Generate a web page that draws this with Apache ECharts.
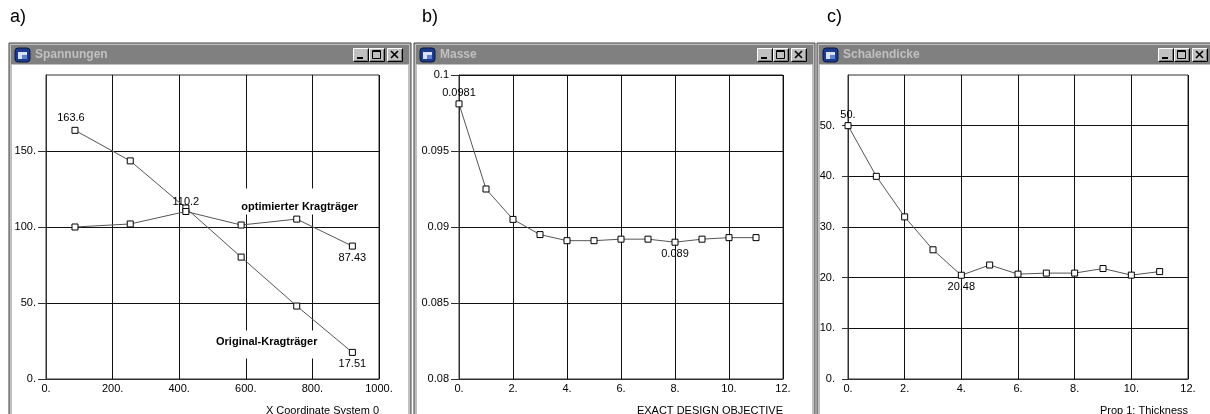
<!DOCTYPE html>
<html><head><meta charset="utf-8">
<script src="https://cdn.jsdelivr.net/npm/echarts/dist/echarts.min.js"></script>
<style>html,body{margin:0;padding:0;background:#fff;overflow:hidden}#c{width:1210px;height:414px}</style>
</head><body><div id="c"></div>
<script>
// ---- data ----
const xCoordA = [87, 253, 420, 586, 753, 920];
const originalVals = [163.6, 143.5, 112.5, 80.2, 48, 17.51];
const optimVals = [100, 102, 110.2, 101.3, 105.2, 87.43];
const iterations = [0, 1, 2, 3, 4, 5, 6, 7, 8, 9, 10, 11];
const masseVals = [0.0981, 0.0925, 0.0905, 0.0895, 0.0891, 0.0891, 0.0892, 0.0892, 0.089, 0.0892, 0.0893, 0.0893];
const dickeVals = [50, 40, 32, 25.5, 20.48, 22.5, 20.7, 20.9, 20.9, 21.8, 20.5, 21.2];
const yTicksA = [0, 50, 100, 150];
const yTicksB = [0.08, 0.085, 0.09, 0.095, 0.1];
const yTicksC = [0, 10, 20, 30, 40, 50];
const panelTitles = ['Spannungen', 'Masse', 'Schalendicke'];
const panelTags = ['a)', 'b)', 'c)'];
const axisNames = ['X Coordinate System 0', 'EXACT DESIGN OBJECTIVE', 'Prop 1: Thickness'];
const seriesNames = ['Original-Kragträger', 'optimierter Kragträger'];

// ---- styling ----
const FONT = 'Liberation Sans, Arial, sans-serif';
const fmtNum = v => Number.isInteger(v) ? v + '.' : String(v);

function pts(xs, ys, labels) {
  return xs.map((x, i) => {
    const item = { value: [x, ys[i]] };
    if (labels[i]) item.label = Object.assign({ show: true }, labels[i]);
    return item;
  });
}
const valLbl = (pos, dist, off) => ({ position: pos, distance: dist, offset: off || [0, 0],
  formatter: p => fmtNum(p.value[1]), fontSize: 11, color: '#000', fontFamily: FONT });
const nameLbl = (text, pos, dist, off, pad) => ({ position: pos, distance: dist, offset: off,
  formatter: text, fontSize: 11, fontWeight: 'bold', color: '#000', fontFamily: FONT,
  backgroundColor: '#fff', padding: pad });

const lineStyle = { color: '#555', width: 1 };
const itemStyle = { color: '#fff', borderColor: '#000', borderWidth: 1 };
function lineSeries(idx, data, name) {
  return { type: 'line', name: name, xAxisIndex: idx, yAxisIndex: idx, data: data, z: 6,
    symbol: 'rect', symbolSize: 6, showAllSymbol: true, lineStyle: lineStyle, itemStyle: itemStyle,
    emphasis: { disabled: true }, animation: false };
}

const gridBox = { show: true, borderColor: '#303030', borderWidth: 1, z: 5, containLabel: false, outerBoundsMode: 'none' };
const grids = [
  Object.assign({ left: 46, top: 75, width: 333, height: 304 }, gridBox),
  Object.assign({ left: 459, top: 75, width: 324, height: 304 }, gridBox),
  Object.assign({ left: 848, top: 75, width: 340, height: 304 }, gridBox)
];
const split = { show: true, lineStyle: { color: '#111', width: 1 } };
function xAx(i, max, interval) {
  return { type: 'value', gridIndex: i, min: 0, max: max, interval: interval, z: 5,
    axisLine: { show: true, onZero: false, lineStyle: { color: '#303030', width: 1 } },
    axisTick: { show: false }, splitLine: split,
    axisLabel: { fontSize: 11, color: '#000', fontFamily: FONT, margin: 4, formatter: v => v + '.' },
    name: axisNames[i], nameLocation: 'end', nameGap: 0,
    nameTextStyle: { fontSize: 11, color: '#000', fontFamily: FONT, align: 'right', verticalAlign: 'top', padding: [26, 0, 0, 0] } };
}
function yAx(i, min, max, interval, ticks, fmt, tickLen, margin) {
  return { type: 'value', gridIndex: i, min: min, max: max, interval: interval, z: 5,
    axisLine: { show: true, lineStyle: { color: '#303030', width: 1 } },
    axisTick: { show: true, length: tickLen, customValues: ticks, lineStyle: { color: '#303030' } }, splitLine: split,
    axisLabel: { fontSize: 11, color: '#000', fontFamily: FONT, margin: margin, customValues: ticks, formatter: fmt } };
}

// window frames
const frames = [[9, 411], [414, 815], [817, 1216]];
const gfx = [];
function button(x, y, glyph) {
  const w = 16, h = 14;
  gfx.push({ type: 'rect', shape: { x: x, y: y, width: w, height: h }, style: { fill: '#c0c0c0' }, z: 1 });
  gfx.push({ type: 'polyline', shape: { points: [[x + 0.5, y + h - 0.5], [x + 0.5, y + 0.5], [x + w - 0.5, y + 0.5]] }, style: { stroke: '#fff', fill: null, lineWidth: 1 }, z: 1 });
  gfx.push({ type: 'polyline', shape: { points: [[x + 0.5, y + h - 0.5], [x + w - 0.5, y + h - 0.5], [x + w - 0.5, y + 0.5]] }, style: { stroke: '#000', fill: null, lineWidth: 1 }, z: 1 });
  gfx.push({ type: 'polyline', shape: { points: [[x + 1.5, y + h - 1.5], [x + w - 1.5, y + h - 1.5], [x + w - 1.5, y + 1.5]] }, style: { stroke: '#808080', fill: null, lineWidth: 1 }, z: 1 });
  if (glyph === 'min') gfx.push({ type: 'rect', shape: { x: x + 4, y: y + h - 5, width: 6, height: 2 }, style: { fill: '#000' }, z: 1 });
  if (glyph === 'max') {
    gfx.push({ type: 'rect', shape: { x: x + 3.5, y: y + 2.5, width: 8, height: 8 }, style: { fill: null, stroke: '#000', lineWidth: 1 }, z: 1 });
    gfx.push({ type: 'rect', shape: { x: x + 3, y: y + 3, width: 9, height: 1 }, style: { fill: '#000' }, z: 1 });
  }
  if (glyph === 'close') {
    gfx.push({ type: 'line', shape: { x1: x + 4, y1: y + 3, x2: x + 11, y2: y + 10 }, style: { stroke: '#000', lineWidth: 1.6 }, z: 1 });
    gfx.push({ type: 'line', shape: { x1: x + 11, y1: y + 3, x2: x + 4, y2: y + 10 }, style: { stroke: '#000', lineWidth: 1.6 }, z: 1 });
  }
}
frames.forEach(([x0, x1], i) => {
  gfx.push({ type: 'rect', shape: { x: x0, y: 43, width: x1 - x0, height: 380 }, style: { fill: '#c0c0c0', stroke: '#404040', lineWidth: 1 }, z: 0 });
  gfx.push({ type: 'rect', shape: { x: x0 + 2, y: 45, width: x1 - x0 - 4, height: 19 }, style: { fill: '#808080' }, z: 1 });
  gfx.push({ type: 'rect', shape: { x: x0 + 3, y: 65, width: x1 - x0 - 6, height: 360 }, style: { fill: '#fff' }, z: 1 });
  // icon
  const ix = x0 + 6, iy = 48;
  gfx.push({ type: 'rect', shape: { x: ix, y: iy, width: 15, height: 14, r: 3 }, style: { fill: '#1c3a8c', stroke: '#0a1840' }, z: 1 });
  gfx.push({ type: 'rect', shape: { x: ix + 3, y: iy + 4, width: 9, height: 7 }, style: { fill: '#d8e0f8' }, z: 1 });
  gfx.push({ type: 'rect', shape: { x: ix + 7, y: iy + 7, width: 5, height: 4 }, style: { fill: '#6080d0' }, z: 1 });
  gfx.push({ type: 'text', x: x0 + 26, y: 55, style: { text: panelTitles[i], fill: '#c0c0c0', font: 'bold 12px ' + FONT, textVerticalAlign: 'middle' }, z: 1 });
  button(x1 - 58, 48, 'min');
  button(x1 - 42, 48, 'max');
  button(x1 - 24, 48, 'close');
  gfx.push({ type: 'text', x: [10, 422, 827][i], y: 17, style: { text: panelTags[i], fill: '#000', font: '18px ' + FONT, textVerticalAlign: 'middle' }, z: 1 });
});

const chart = echarts.init(document.getElementById('c'), null, { renderer: 'canvas' });
chart.setOption({
  backgroundColor: '#fff',
  animation: false,
  graphic: { elements: gfx },
  grid: grids,
  xAxis: [xAx(0, 1000, 200), xAx(1, 12, 2), xAx(2, 12, 2)],
  yAxis: [
    yAx(0, 0, 200, 50, yTicksA, v => v + '.', 8, 10),
    yAx(1, 0.08, 0.1, 0.005, yTicksB, v => String(parseFloat(v.toFixed(4))), 8, 10),
    yAx(2, 0, 60, 10, yTicksC, v => v + '.', 6, 13)
  ],
  series: [
    lineSeries(0, pts(xCoordA, originalVals, {
      0: valLbl('top', 3, [-4, 0]),
      4: nameLbl(seriesNames[0], 'bottom', 21, [-31, 0], [6, 0, 11, 2]),
      5: valLbl('bottom', 3)
    }), seriesNames[0]),
    lineSeries(0, pts(xCoordA, optimVals, {
      2: valLbl('top', 1),
      4: nameLbl(seriesNames[1], 'top', 1, [3, 0], [13, 2, 2, 2]),
      5: valLbl('bottom', 3)
    }), seriesNames[1]),
    lineSeries(1, pts(iterations, masseVals, { 0: valLbl('top', 2), 8: valLbl('bottom', 3) }), panelTitles[1]),
    lineSeries(2, pts(iterations, dickeVals, { 0: valLbl('top', 2), 4: valLbl('bottom', 3) }), panelTitles[2])
  ]
});
</script></body></html>
